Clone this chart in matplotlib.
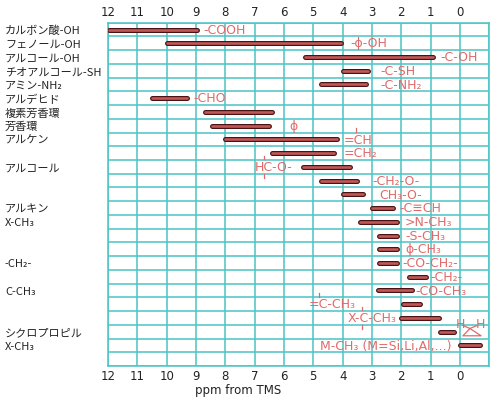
import matplotlib
matplotlib.use('Agg')
import matplotlib.pyplot as plt
import matplotlib.transforms as mtransforms

# 左側のラベル（行番号は上から1始まり）
left_labels = ['カルボン酸-OH', 'フェノール-OH', 'アルコール-OH', 'チオアルコール-SH',
               'アミン-NH₂', 'アルデヒド', '複素芳香環', '芳香環', 'アルケン',
               'アルコール', 'アルキン', 'X-CH₃', '-CH₂-', 'C-CH₃',
               'シクロプロピル', 'X-CH₃']
left_rows = [1, 2, 3, 4, 5, 6, 7, 8, 9, 11, 14, 15, 18, 20, 23, 24]

# 各行のシフト範囲 (ppm)、上から順に
starts = [11.95, 10.0, 5.3, 4.0, 4.75, 10.5, 8.7, 8.45, 8.0, 6.4, 5.35, 4.75,
          4.0, 3.0, 3.4, 2.75, 2.75, 2.75, 1.75, 2.8, 1.95, 2.0, 0.68, 0.0]
ends = [8.95, 4.05, 0.92, 3.12, 3.2, 9.32, 6.42, 6.5, 4.2, 4.3, 3.75, 3.5,
        3.3, 2.27, 2.13, 2.15, 2.15, 2.16, 1.16, 1.65, 1.37, 0.72, 0.22, -0.68]

# 赤字の注記
notes = ['-COOH', '-ϕ-OH', '-C-OH', '-C-SH', '-C-NH₂', '-CHO', '', 'ϕ', '=CH',
         '=CH₂', 'HC-O-', '-CH₂-O-', 'CH₃-O-', '-C≡CH', '>N-CH₃', '-S-CH₃',
         'ϕ-CH₃', '-CO-CH₂-', '-CH₂-', '-CO-CH₃', '=C-CH₃', 'X-C-CH₃', '',
         'M-CH₃ (M=Si,Li,Al,...)']
note_x = [8.75, 3.75, 0.68, 2.73, 2.73, 9.1, 0, 5.8, 3.95, 3.95, 5.7, 3.0,
          2.75, 2.05, 1.87, 1.85, 1.85, 1.95, 1.02, 1.53, 3.55, 2.15, 0, 0.3]
note_ha = ['left'] * 10 + ['right'] + ['left'] * 9 + ['right', 'right', 'left', 'right']

ticks = list(range(12, -1, -1))
nrows = 25

grid_c = '#4cc4c4'
dark = '#4a1212'
fill = '#c05858'
red = '#e06a6a'

plt.rcParams['font.family'] = ['Noto Sans CJK JP', 'DejaVu Sans']

fig = plt.figure(figsize=(4.96, 3.99), dpi=100)
ax = fig.add_axes([0.2177, 0.0827, 0.7688, 0.8604])
ax.set_xlim(12, -1)
ax.set_ylim(nrows, 0)

# グリッド
for x in range(12, -2, -1):
    ax.axvline(x, color=grid_c, lw=1.1, zorder=0)
for r in range(nrows + 1):
    ax.axhline(r, color=grid_c, lw=1.1, zorder=0)
for sp in ax.spines.values():
    sp.set_color(grid_c)
    sp.set_linewidth(1.1)

ax.set_xticks(ticks)
ax.set_xticklabels([str(t) for t in ticks], family='DejaVu Sans')
ax.set_yticks([])
ax.tick_params(axis='x', length=0, labelsize=8.5, top=True, labeltop=True,
               pad=3, colors='#222222')
ax.set_xlabel('ppm from TMS', family='DejaVu Sans', fontsize=8.5, color='#222222')
ax.xaxis.set_label_coords(0.34, -0.052)

# バー
for i, (s, e) in enumerate(zip(starts, ends)):
    y = i + 0.5
    ax.plot([s, e], [y, y], color=dark, lw=3.6, solid_capstyle='round', zorder=3)
    ax.plot([s, e], [y, y], color=fill, lw=1.9, solid_capstyle='round', zorder=4)

# 注記
for i, (t, x, ha) in enumerate(zip(notes, note_x, note_ha)):
    if t:
        ax.text(x, i + 0.55, t, color=red, fontsize=9, ha=ha, va='center',
                family='DejaVu Sans', zorder=5)

# 結合の縦線
bonds = [(9, 3.55, [-1]), (11, 6.68, [-1, 1]), (21, 4.8, [-1]), (22, 3.35, [-1, 1])]
for row, x, sides in bonds:
    for sd in sides:
        y0 = row - 0.5 + sd * 0.55
        y1 = row - 0.5 + sd * 0.8
        ax.plot([x, x], [y0, y1], color=red, lw=0.9, zorder=5)

# シクロプロパン
ax.plot([-0.34, -0.1, -0.72, -0.34], [22.27, 22.8, 22.8, 22.27], color=red, lw=0.9,
        clip_on=False, zorder=5)
ax.plot([-0.1, -0.34, -0.58], [22.05, 22.27, 22.05], color=red, lw=0.9,
        clip_on=False, zorder=5)
ax.text(0.0, 21.95, 'H', color=red, fontsize=9, ha='center', va='center',
        family='DejaVu Sans', zorder=5)
ax.text(-0.7, 21.95, 'H', color=red, fontsize=9, ha='center', va='center',
        family='DejaVu Sans', zorder=5)

# 左ラベル
trans = mtransforms.blended_transform_factory(fig.transFigure, ax.transData)
for lab, r in zip(left_labels, left_rows):
    ax.text(0.01, r - 0.4, lab, transform=trans, fontsize=8, ha='left',
            va='center', color='#222222')

fig.savefig('out.png', dpi=100)
